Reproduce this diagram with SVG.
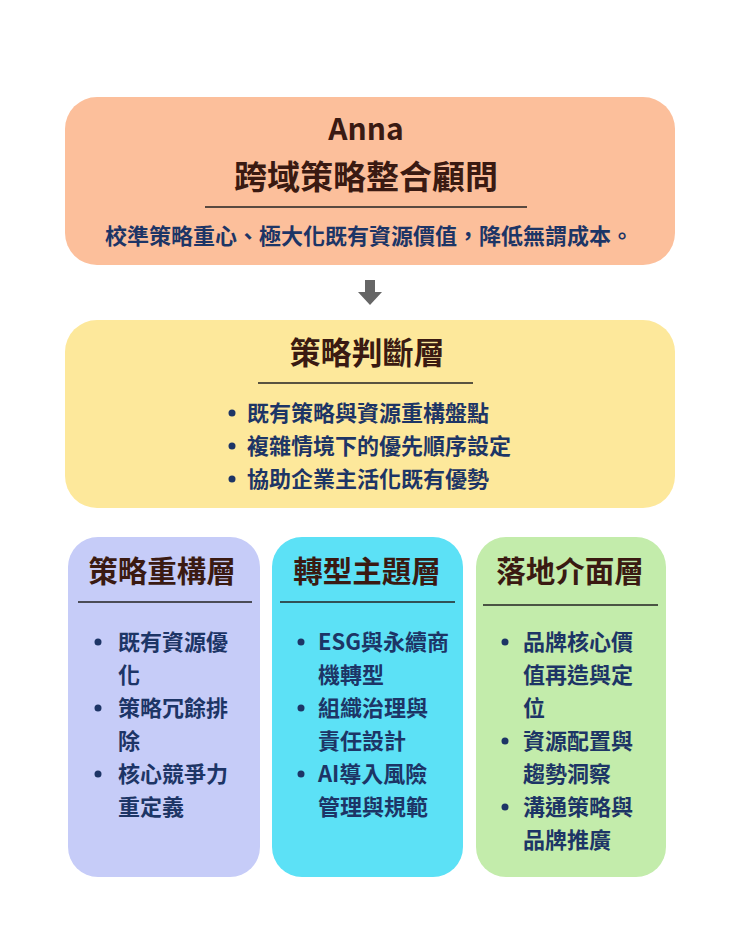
<svg xmlns="http://www.w3.org/2000/svg" width="740" height="925" viewBox="0 0 740 925">
<style>
.t{font-family:"Noto Sans CJK TC","Noto Sans",sans-serif;font-weight:bold;fill:#3a1a12}
.b{font-family:"Noto Sans CJK TC","Noto Sans",sans-serif;font-weight:bold;fill:#1d3566;font-size:22px}
.ln{stroke:#222;stroke-width:1.3}
</style>
<rect width="740" height="925" fill="#fff"/>
<g id="top">
<rect x="65" y="97" width="610" height="168" rx="32" fill="#fcbf9b"/>
<text class="t" x="366" y="140" font-size="30" text-anchor="middle">Anna</text>
<text class="t" x="366" y="189" font-size="33" text-anchor="middle">跨域策略整合顧問</text>
<line class="ln" x1="205" y1="207" x2="527" y2="207"/>
<text class="b" x="369" y="244" text-anchor="middle">校準策略重心、極大化既有資源價值，降低無謂成本。</text>
</g>
<g id="connectors">
<path d="M365 280h10v12h7l-12 13-12-13h7z" fill="#666"/>
</g>
<g id="judge">
<rect x="65" y="320" width="610" height="188" rx="32" fill="#fde89b"/>
<text class="t" x="367" y="364" font-size="31" text-anchor="middle">策略判斷層</text>
<line class="ln" x1="258" y1="383" x2="473" y2="383"/>
<g class="b">
<circle cx="232" cy="413" r="3.5" fill="#1d3566"/><text x="247" y="421">既有策略與資源重構盤點</text>
<circle cx="232" cy="446" r="3.5" fill="#1d3566"/><text x="247" y="454">複雜情境下的優先順序設定</text>
<circle cx="232" cy="479" r="3.5" fill="#1d3566"/><text x="247" y="487">協助企業主活化既有優勢</text>
</g>
</g>
<g id="col1">
<rect x="68" y="537" width="192" height="340" rx="30" fill="#c6ccf8"/>
<text class="t" x="162" y="582" font-size="29.5" text-anchor="middle">策略重構層</text>
<line class="ln" x1="78" y1="602" x2="252" y2="602"/>
<g class="b" fill="#1d3566">
<circle cx="98" cy="642" r="3.5"/><text x="118" y="650">既有資源優</text><text x="118" y="683">化</text>
<circle cx="98" cy="708" r="3.5"/><text x="118" y="716">策略冗餘排</text><text x="118" y="749">除</text>
<circle cx="98" cy="774" r="3.5"/><text x="118" y="782">核心競爭力</text><text x="118" y="815">重定義</text>
</g>
</g>
<g id="col2">
<rect x="272" y="537" width="191" height="340" rx="30" fill="#5ce1f6"/>
<text class="t" x="367" y="582" font-size="29.5" text-anchor="middle">轉型主題層</text>
<line class="ln" x1="280" y1="602" x2="455" y2="602"/>
<g class="b" fill="#1d3566">
<circle cx="301" cy="642" r="3.5"/><text x="318" y="650">ESG與永續商</text><text x="318" y="683">機轉型</text>
<circle cx="301" cy="708" r="3.5"/><text x="318" y="716">組織治理與</text><text x="318" y="749">責任設計</text>
<circle cx="301" cy="774" r="3.5"/><text x="318" y="782">AI導入風險</text><text x="318" y="815">管理與規範</text>
</g>
</g>
<g id="col3">
<rect x="476" y="537" width="190" height="340" rx="30" fill="#c3ecab"/>
<text class="t" x="570" y="582" font-size="29.5" text-anchor="middle">落地介面層</text>
<line class="ln" x1="483" y1="605" x2="658" y2="605"/>
<g class="b" fill="#1d3566">
<circle cx="505" cy="642" r="3.5"/><text x="523" y="650">品牌核心價</text><text x="523" y="683">值再造與定</text><text x="523" y="716">位</text>
<circle cx="505" cy="741" r="3.5"/><text x="523" y="749">資源配置與</text><text x="523" y="782">趨勢洞察</text>
<circle cx="505" cy="807" r="3.5"/><text x="523" y="815">溝通策略與</text><text x="523" y="848">品牌推廣</text>
</g>
</g>
</svg>
